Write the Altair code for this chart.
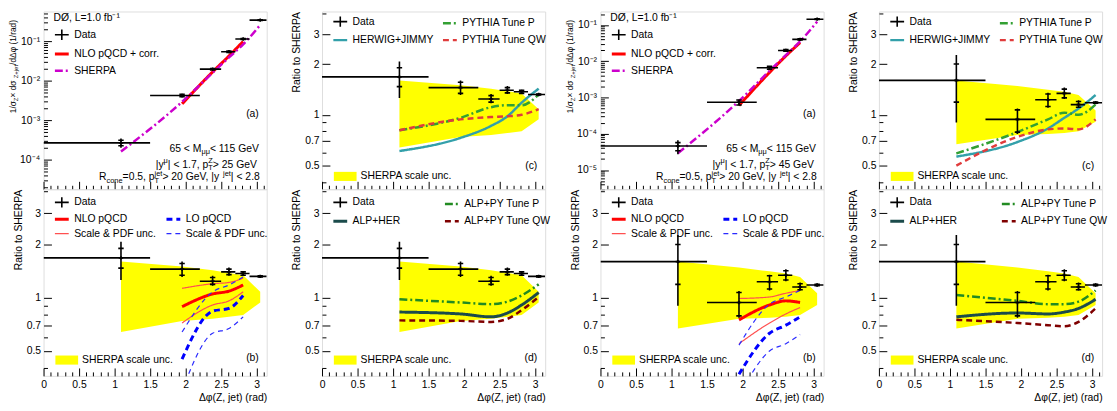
import math
import altair as alt
import pandas as pd

FONT = "Liberation Sans"
PI = math.pi
W, HT, HB = 226, 180, 189
FS, FS_T, FS_S = 10.5, 8.5, 7.5
NB = '\u00a0'

# ---------------- values ----------------
bin_lo = [0.0, 1.5, 2.2, 2.5, 2.7, 2.9]
bin_hi = [1.5, 2.2, 2.5, 2.7, 2.9, PI]
x_pt = [1.09, 1.95, 2.38, 2.61, 2.81, 3.05]
x_th = [1.95, 2.38, 2.61, 2.81]

# pT(Z) > 25 GeV
a25_val = [2.65e-4, 4.2e-3, 0.0195, 0.054, 0.113, 0.34]
a25_tlo = [2.0e-4, 3.8e-3, 0.0183, 0.051, 0.109, 0.332]
a25_thi = [3.4e-4, 4.6e-3, 0.0208, 0.057, 0.117, 0.348]
a25_slo = [2.25e-4, 3.9e-3, 0.0187, 0.052, 0.110, 0.335]
a25_shi = [3.1e-4, 4.5e-3, 0.0203, 0.056, 0.116, 0.345]
a25_sherpa = [1.6e-4, 2.9e-3, 0.0158, 0.0386, 0.083, 0.256]
a25_nlo = [2.58e-3, 0.0166, 0.042, 0.098]

r25_val = [1.68, 1.45, 1.24, 1.40, 1.37, 1.32]
r25_tlo = [1.26, 1.31, 1.17, 1.33, 1.33, 1.30]
r25_thi = [2.07, 1.60, 1.33, 1.48, 1.41, 1.34]
r25_slo = [1.47, 1.34, 1.19, 1.35, 1.34, 1.31]
r25_shi = [1.90, 1.56, 1.30, 1.45, 1.40, 1.33]
band25_hi = [1.60, 1.50, 1.43, 1.38, 1.34, 1.08]
band25_lo = [0.64, 0.74, 0.76, 0.78, 0.80, 0.94]
nlo25 = [0.89, 1.05, 1.09, 1.18]
nlo25_hi = [1.13, 1.20, 1.22, 1.29]
nlo25_lo = [0.72, 0.91, 0.96, 1.08]
lo25 = [0.45, 0.84, 0.87, 1.03]
lo25_hi = [0.64, 1.08, 1.18, 1.31]
lo25_lo = [0.30, 0.63, 0.67, 0.78]
herwig25 = [0.61, 0.73, 0.86, 0.98, 1.18, 1.43]
pytp25 = [0.81, 0.96, 1.11, 1.14, 1.14, 1.32]
pytqw25 = [0.81, 0.94, 0.97, 0.98, 1.00, 1.08]
alphe25 = [0.83, 0.81, 0.78, 0.82, 0.91, 1.07]
alpp25 = [0.98, 0.94, 0.92, 0.95, 1.03, 1.19]
alpqw25 = [0.745, 0.74, 0.73, 0.76, 0.85, 1.01]

# pT(Z) > 45 GeV
a45_val = [4.6e-5, 7.4e-4, 6.6e-3, 0.0198, 0.040, 0.144]
a45_tlo = [2.7e-5, 6.1e-4, 5.9e-3, 0.0184, 0.038, 0.140]
a45_thi = [6.6e-5, 8.6e-4, 7.3e-3, 0.0213, 0.042, 0.148]
a45_slo = [3.4e-5, 6.2e-4, 6.0e-3, 0.0187, 0.0385, 0.141]
a45_shi = [5.7e-5, 8.5e-4, 7.2e-3, 0.0210, 0.0415, 0.147]
a45_sherpa = [2.9e-5, 8.0e-4, 5.4e-3, 0.0147, 0.035, 0.123]
a45_nlo = [6.0e-4, 4.9e-3, 0.014, 0.0325]

r45_val = [1.60, 0.94, 1.23, 1.34, 1.15, 1.18]
r45_tlo = [0.90, 0.77, 1.10, 1.24, 1.10, 1.16]
r45_thi = [2.26, 1.09, 1.35, 1.45, 1.22, 1.20]
r45_slo = [1.19, 0.79, 1.12, 1.26, 1.11, 1.17]
r45_shi = [2.00, 1.07, 1.33, 1.42, 1.20, 1.19]
band45_hi = [1.60, 1.48, 1.41, 1.37, 1.31, 1.06]
band45_lo = [0.67, 0.76, 0.77, 0.78, 0.80, 0.91]
nlo45 = [0.75, 0.91, 0.96, 0.94]
nlo45_hi = [0.99, 1.01, 1.06, 1.10]
nlo45_lo = [0.55, 0.72, 0.81, 0.88]
lo45 = [0.37, 0.63, 0.70, 0.78]
lo45_hi = [0.54, 0.92, 1.01, 1.10]
lo45_lo = [0.28, 0.50, 0.55, 0.62]
herwig45 = [0.565, 0.69, 0.83, 0.96, 1.09, 1.31]
pytp45 = [0.59, 0.79, 0.94, 1.03, 1.00, 1.15]
pytqw45 = [0.50, 0.74, 0.82, 0.83, 0.82, 0.94]
alphe45 = [0.78, 0.82, 0.81, 0.83, 0.87, 0.98]
alpp45 = [1.035, 0.96, 0.92, 0.92, 0.95, 1.10]
alpqw45 = [0.75, 0.72, 0.70, 0.69, 0.73, 0.87]

# axis domains / ticks
YA25 = [10 ** -4.75, 10 ** -0.25]
YA45 = [10 ** -5.53, 10 ** -0.63]
YR = [0.362, 4.1]
X_MAJOR = [0, 0.5, 1, 1.5, 2, 2.5, 3]
X_MINOR = [round(i * 0.1, 1) for i in range(1, 32) if i % 5 != 0]
R_MAJOR = [0.5, 0.7, 1, 2, 3]
R_MINOR = [0.4, 0.6, 0.8, 0.9, 4]

PLUS = "M-1,0H1M0,-0.75V0.75"
HLINE = "M-1,0H1"
RECT = "M-1,-0.4H1V0.4H-1Z"

# ---------------- text helpers (Arial/Liberation metrics) ----------------
CW = {' ': 278, NB: 278, '<': 584, '>': 584, '=': 584, '.': 278, ',': 278, '|': 260, '(': 333,
      ')': 333, '/': 278, '+': 584, '×': 584, 'M': 833, 'G': 778, 'V': 667, 'T': 611, 'Z': 611,
      'R': 722, 'e': 556, 'y': 500, 'p': 556, 'c': 500, 'o': 556, 'n': 556, 'j': 222, 't': 278,
      'd': 556, 'r': 333, 'a': 556, 'μ': 576, 'σ': 600, 'Δ': 668, 'φ': 700}


def tw(s, size):
    return sum(CW.get(ch, 556) for ch in s) * size / 1000.0


def seg_widths(segs, size, small):
    out = []
    for kind, t in segs:
        if kind == 'n':
            out.append(tw(t, size))
        elif kind in ('sub', 'sup'):
            out.append(tw(t, small))
        else:
            out.append(max(tw(t[0], small), tw(t[1], small)))
    return out


def nb(s):
    return s.replace(' ', NB)


def rich_h(segs, x_right, y_base, size=FS, small=FS_S):
    ws = seg_widths(segs, size, small)
    x = x_right - sum(ws)
    rows = []
    for (kind, t), w in zip(segs, ws):
        if kind == 'n':
            rows.append((x, y_base, nb(t), size))
        elif kind == 'sub':
            rows.append((x, y_base + 2.5, nb(t), small))
        elif kind == 'sup':
            rows.append((x, y_base - 4.5, nb(t), small))
        else:
            rows.append((x, y_base + 2.5, nb(t[0]), small))
            rows.append((x, y_base - 4.5, nb(t[1]), small))
        x += w
    return rows


def rich_v(segs, x_base, y_top, size=FS_T, small=6.0):
    ws = seg_widths(segs, size, small)
    y = y_top + sum(ws)
    rows = []
    for (kind, t), w in zip(segs, ws):
        if kind == 'n':
            rows.append((x_base, y, nb(t), size))
        else:
            rows.append((x_base + 2.2, y, nb(t), small))
        y -= w
    return rows


def kin_texts(ptz):
    l1 = [('n', '65 < M'), ('sub', 'μμ'), ('n', '< 115 GeV')]
    l2 = [('n', '|y'), ('sup', 'μ'), ('n', '| < 1.7, p'), ('subsup', ('T', 'Z')), ('n', ' > %d GeV' % ptz)]
    l3 = [('n', 'R'), ('sub', 'cone'), ('n', '=0.5, p'), ('subsup', ('T', 'jet')),
          ('n', ' > 20 GeV, |y'), ('sup', 'jet'), ('n', '| < 2.8')]
    xr = W - 7
    return rich_h(l1, xr, HT - 38) + rich_h(l2, xr, HT - 22) + rich_h(l3, xr, HT - 9)


YTITLE = [('n', '1/σ'), ('sub', 'Z'), ('n', ' × dσ'), ('sub', 'Z+jet'), ('n', '/dΔφ (1/rad)')]


def tag(label, y_base):
    return rich_h([('n', label)], W - 8, y_base)


# ---------------- axes ----------------
AX_TXT = dict(labelFont=FONT, labelFontSize=FS, labelColor='black', titleFont=FONT,
              titleFontSize=FS, titleFontWeight='normal', titleColor='black')


def x_major(bottom):
    kw = dict(orient='bottom', values=X_MAJOR, tickSize=8, offset=-8, domain=False, grid=False,
              tickColor='black', labelFlush=False, labelOverlap=False)
    if bottom:
        kw.update(AX_TXT)
        kw.update(labels=True, format='~g', labelPadding=4, title='Δφ(Z, jet) (rad)',
                  titleAnchor='end', titlePadding=2)
    else:
        kw.update(labels=False, title=None)
    return alt.Axis(**kw)


def minor(vals, orient):
    return alt.Axis(orient=orient, values=vals, tickSize=4, offset=-4, domain=False, grid=False,
                    labels=False, tickColor='black', title=None)


def r_major():
    kw = dict(orient='left', values=R_MAJOR, tickSize=8, offset=-8, domain=False, grid=False,
              tickColor='black', format='~g', labelPadding=3, labelOverlap=False, labelFlush=False,
              title='Ratio to SHERPA', titleAnchor='end', titlePadding=3)
    kw.update(AX_TXT)
    return alt.Axis(**kw)


def log_major(vals):
    kw = dict(orient='left', values=vals, tickSize=8, offset=-8, domain=False, grid=False,
              tickColor='black',
              labelExpr="'10' + ['⁰','⁻¹','⁻²','⁻³','⁻⁴','⁻⁵','⁻⁶'][round(-log(datum.value)/LN10)]",
              labelPadding=4, labelOverlap=False, labelFlush=False, title=None)
    kw.update(AX_TXT)
    return alt.Axis(**kw)


def log_minor_vals(dom):
    out = []
    for n in range(-7, 1):
        for k in range(2, 10):
            v = k * 10.0 ** n
            if dom[0] < v < dom[1]:
                out.append(v)
    return out


# ---------------- legends ----------------
def line_legend(x, y, columns=1, col_pad=0, row_pad=0, title=None, label_expr=None,
                direction=None):
    kw = dict(orient='none', legendX=x, legendY=y, columns=columns, columnPadding=col_pad,
              rowPadding=row_pad, symbolSize=196, labelOffset=4, labelFont=FONT, labelFontSize=FS,
              labelColor='black', padding=0, labelLimit=0)
    if direction:
        kw['direction'] = direction
    if title:
        kw.update(title=title, titleFont=FONT, titleFontSize=FS, titleFontWeight='normal',
                  titleColor='black', titlePadding=3)
    else:
        kw['title'] = None
    if label_expr:
        kw['labelExpr'] = label_expr
    return alt.Legend(**kw)


def band_legend(y):
    return alt.Legend(orient='none', legendX=12, legendY=y, title=None, symbolType=RECT,
                      symbolSize=529, symbolStrokeWidth=0, labelOffset=4, labelFont=FONT,
                      labelFontSize=FS, labelColor='black', padding=0, labelLimit=0)


# ---------------- data frames ----------------
def pts_df(vals, tlo, thi, slo, shi):
    return pd.DataFrame(dict(x=x_pt, lo=bin_lo, hi=bin_hi, v=vals, tlo=tlo, thi=thi,
                             slo=slo, shi=shi, s=['Data'] * len(x_pt)))


def lines_df(items):
    rows = []
    for k, (name, xs, ys) in enumerate(items):
        for a, b in zip(xs, ys):
            rows.append(dict(x=a, v=b, s=name, k=k))
    return pd.DataFrame(rows)


def band_df(hi, lo):
    return pd.DataFrame(dict(x=x_pt, hi=hi, lo=lo, b=['SHERPA scale unc.'] * len(x_pt)))


# ---------------- panel builder ----------------
def panel(H, ydom, ymaj, ymin_vals, st, lines, pts, leg, band=None, band_y=None,
          texts=(), vtexts=(), bottom=False):
    xs = alt.Scale(domain=[0, PI], nice=False, zero=False)
    ys = alt.Scale(type='log', domain=ydom, nice=False)
    dom = st['dom']
    e_col = alt.Color('s:N', scale=alt.Scale(domain=dom, range=st['col']), legend=leg)
    e_dash = alt.StrokeDash('s:N', scale=alt.Scale(domain=dom, range=st['dash']), legend=leg)
    e_w = alt.StrokeWidth('s:N', scale=alt.Scale(type='ordinal', domain=dom, range=st['w']), legend=leg)
    e_shape = alt.Shape('s:N', scale=alt.Scale(domain=dom, range=st['shape']), legend=leg)
    layers = []
    xmaj = x_major(bottom)
    if band is not None:
        layers.append(alt.Chart(band).mark_area(clip=True).encode(
            x=alt.X('x:Q', scale=xs, axis=xmaj),
            y=alt.Y('hi:Q', scale=ys, axis=ymaj), y2='lo:Q',
            fill=alt.Fill('b:N', scale=alt.Scale(domain=['SHERPA scale unc.'], range=['#ffff00']),
                          legend=band_legend(band_y))))
        lx, ly = None, None
    else:
        lx, ly = xmaj, ymaj
    layers.append(alt.Chart(lines).mark_line(clip=True, interpolate='monotone').encode(
        x=alt.X('x:Q', scale=xs, axis=lx), y=alt.Y('v:Q', scale=ys, axis=ly),
        color=e_col, strokeDash=e_dash, strokeWidth=e_w, detail='k:N'))
    base = alt.Chart(pts)
    layers.append(base.mark_rule(clip=True, color='black', strokeWidth=1.6).encode(
        x=alt.X('lo:Q', scale=xs, axis=minor(X_MINOR, 'bottom')), x2='hi:Q',
        y=alt.Y('v:Q', scale=ys, axis=minor(ymin_vals, 'left'))))
    layers.append(base.mark_rule(clip=True, color='black', strokeWidth=1.6).encode(
        x=alt.X('x:Q', scale=xs, axis=None), y=alt.Y('tlo:Q', scale=ys, axis=None), y2='thi:Q'))
    for f in ('slo', 'shi'):
        layers.append(base.mark_point(shape=HLINE, size=30, filled=False, color='black',
                                      strokeWidth=1.6, opacity=1, clip=True).encode(
            x=alt.X('x:Q', scale=xs, axis=None), y=alt.Y(f + ':Q', scale=ys, axis=None)))
    layers.append(base.mark_point(filled=False, size=20, opacity=1, clip=True).encode(
        x=alt.X('x:Q', scale=xs, axis=None), y=alt.Y('v:Q', scale=ys, axis=None),
        shape=e_shape, color=e_col, strokeWidth=e_w))
    if texts:
        tdf = pd.DataFrame(list(texts), columns=['px', 'py', 't', 'fs'])
        layers.append(alt.Chart(tdf).mark_text(align='left', baseline='alphabetic', font=FONT,
                                               color='black').encode(
            x=alt.X('px:Q', scale=None, axis=None), y=alt.Y('py:Q', scale=None, axis=None),
            text='t:N', size=alt.Size('fs:Q', scale=None, legend=None)))
    if vtexts:
        vdf = pd.DataFrame(list(vtexts), columns=['px', 'py', 't', 'fs'])
        layers.append(alt.Chart(vdf).mark_text(align='left', baseline='alphabetic', font=FONT,
                                               color='black', angle=270).encode(
            x=alt.X('px:Q', scale=None, axis=None), y=alt.Y('py:Q', scale=None, axis=None),
            text='t:N', size=alt.Size('fs:Q', scale=None, legend=None)))
    return alt.layer(*layers).resolve_axis(x='independent', y='independent').properties(
        width=W, height=H)


# ---------------- styles ----------------
ST_A = dict(dom=['Data', 'NLO pQCD + corr.', 'SHERPA'],
            col=['black', '#ff0000', '#cc00cc'],
            dash=[[1, 0], [1, 0], [8, 3, 2, 3]],
            w=[1.6, 3, 2.5],
            shape=[PLUS, 'stroke', 'stroke'])
# column-by-column order (vertical legends)
ST_B = dict(dom=['Data', 'NLO pQCD', 'NLO unc', '_', 'LO pQCD', 'LO unc'],
            col=['black', '#ff0000', '#ff5050', 'transparent', '#0000ff', '#2a2aff'],
            dash=[[1, 0], [1, 0], [1, 0], [1, 0], [6, 4], [5, 4]],
            w=[1.6, 3, 1.2, 1, 3, 1.2],
            shape=[PLUS, 'stroke', 'stroke', 'stroke', 'stroke', 'stroke'])
# row-by-row order (horizontal legend)
ST_C = dict(dom=['Data', 'PYTHIA Tune P', 'HERWIG+JIMMY', 'PYTHIA Tune QW'],
            col=['black', '#33a033', '#33a0aa', '#e03c3c'],
            dash=[[1, 0], [8, 3, 2, 3], [1, 0], [6, 4]],
            w=[1.6, 2.5, 2.5, 2.5],
            shape=[PLUS, 'stroke', 'stroke', 'stroke'])
ST_D = dict(dom=['Data', 'ALP+HER', 'ALP+PY Tune P', 'ALP+PY Tune QW'],
            col=['black', '#1b4b4b', '#228b22', '#7f0000'],
            dash=[[1, 0], [1, 0], [8, 3, 2, 3], [6, 4]],
            w=[1.6, 3, 2.5, 2.5],
            shape=[PLUS, 'stroke', 'stroke', 'stroke'])
B_EXPR = ("datum.value == '_' ? '' : ((datum.value == 'NLO unc' || datum.value == 'LO unc') "
          "? 'Scale & PDF unc.' : datum.label)")


def build(ptz, a_val, a_tlo, a_thi, a_slo, a_shi, a_sherpa, a_nlo, ydom_a,
          r_val, r_tlo, r_thi, r_slo, r_shi, bhi, blo, nlo, nlo_hi, nlo_lo, lo, lo_hi, lo_lo,
          herwig, pytp, pytqw, alphe, alpp, alpqw):
    pa = pts_df(a_val, a_tlo, a_thi, a_slo, a_shi)
    pr = pts_df(r_val, r_tlo, r_thi, r_slo, r_shi)
    bd = band_df(bhi, blo)
    amaj = [10.0 ** n for n in range(-6, 1) if ydom_a[0] < 10.0 ** n < ydom_a[1]]
    top_a = panel(HT, ydom_a, log_major(amaj), log_minor_vals(ydom_a), ST_A,
                  lines_df([('NLO pQCD + corr.', x_th, a_nlo), ('SHERPA', x_pt, a_sherpa)]), pa,
                  line_legend(10, 2, row_pad=2, title='DØ, L=1.0 fb⁻¹'),
                  texts=kin_texts(ptz) + tag('(a)', 107),
                  vtexts=rich_v(YTITLE, -28, 8))
    bot_b = panel(HB, YR, r_major(), R_MINOR, ST_B,
                  lines_df([('NLO pQCD', x_th, nlo), ('LO pQCD', x_th, lo),
                            ('NLO unc', x_th, nlo_hi), ('NLO unc', x_th, nlo_lo),
                            ('LO unc', x_th, lo_hi), ('LO unc', x_th, lo_lo)]), pr,
                  line_legend(10, 5, columns=2, col_pad=4, label_expr=B_EXPR),
                  band=bd, band_y=HB - 27.5, texts=tag('(b)', HB - 15), bottom=True)
    top_c = panel(HT, YR, r_major(), R_MINOR, ST_C,
                  lines_df([('HERWIG+JIMMY', x_pt, herwig), ('PYTHIA Tune P', x_pt, pytp),
                            ('PYTHIA Tune QW', x_pt, pytqw)]), pr,
                  line_legend(10, 2, columns=2, col_pad=4, row_pad=1.5, direction='horizontal'),
                  band=bd, band_y=HT - 24.5, texts=tag('(c)', HT - 21))
    bot_d = panel(HB, YR, r_major(), R_MINOR, ST_D,
                  lines_df([('ALP+HER', x_pt, alphe), ('ALP+PY Tune P', x_pt, alpp),
                            ('ALP+PY Tune QW', x_pt, alpqw)]), pr,
                  line_legend(10, 5, columns=2, col_pad=39, row_pad=2),
                  band=bd, band_y=HB - 27.5, texts=tag('(d)', HB - 15), bottom=True)
    return top_a, bot_b, top_c, bot_d


IND = dict(x='independent', y='independent', color='independent', strokeDash='independent',
           strokeWidth='independent', shape='independent', fill='independent')

a1, b1, c1, d1 = build(25, a25_val, a25_tlo, a25_thi, a25_slo, a25_shi, a25_sherpa, a25_nlo, YA25,
                       r25_val, r25_tlo, r25_thi, r25_slo, r25_shi, band25_hi, band25_lo,
                       nlo25, nlo25_hi, nlo25_lo, lo25, lo25_hi, lo25_lo,
                       herwig25, pytp25, pytqw25, alphe25, alpp25, alpqw25)
a2, b2, c2, d2 = build(45, a45_val, a45_tlo, a45_thi, a45_slo, a45_shi, a45_sherpa, a45_nlo, YA45,
                       r45_val, r45_tlo, r45_thi, r45_slo, r45_shi, band45_hi, band45_lo,
                       nlo45, nlo45_hi, nlo45_lo, lo45, lo45_hi, lo45_lo,
                       herwig45, pytp45, pytqw45, alphe45, alpp45, alpqw45)

chart = alt.concat(a1, c1, a2, c2, b1, d1, b2, d2, columns=4,
                   spacing={'row': 0, 'column': 56}, bounds='flush').resolve_scale(**IND).properties(
    padding={'left': 0, 'top': 0, 'right': 0, 'bottom': 2}
).configure_view(stroke='black', strokeWidth=1).configure(font=FONT)

chart.save("out.html", embed_options={"renderer": "svg", "actions": False})
